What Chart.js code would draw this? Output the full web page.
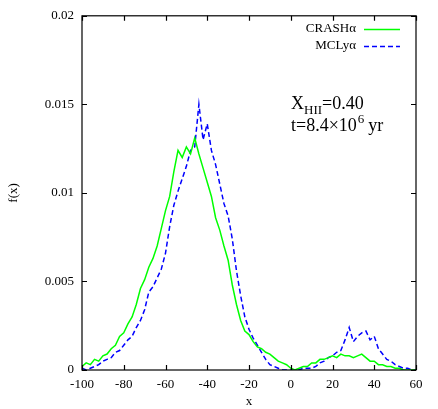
<!DOCTYPE html>
<html>
<head>
<meta charset="utf-8">
<script src="https://cdn.jsdelivr.net/npm/chart.js@4/dist/chart.umd.min.js"></script>
<style>
html,body{margin:0;padding:0;background:#fff;}
#wrap{width:438px;height:409px;position:relative;}
</style>
</head>
<body>
<div id="wrap"><canvas id="c" width="438" height="409"></canvas></div>
<script>
const xValues = [-100,-98,-96,-94,-92,-90,-88,-86,-84,-82,-80,-78,-76,-74,-72,-70,-68,-66,-64,-62,-60,-58,-56,-54,-52,-50,-48,-46,-44,-42,-40,-38,-36,-34,-32,-30,-28,-26,-24,-22,-20,-18,-16,-14,-12,-10,-8,-6,-4,-2,0,2,4,6,8,10,12,14,16,18,20,22,24,26,28,30,32,34,36,38,40,42,44,46,48,50,52,54,56,58,60];
const crash = [0.0002,0.0004,0.0003,0.0006,0.0005,0.0008,0.0009,0.0012,0.0014,0.0019,0.0021,0.0026,0.0030,0.0037,0.0046,0.0051,0.0058,0.0063,0.0070,0.0080,0.0090,0.0098,0.0112,0.0124,0.0120,0.0126,0.0122,0.0131,0.0122,0.0114,0.0106,0.0098,0.0086,0.0079,0.0070,0.0062,0.0048,0.0037,0.0028,0.0022,0.0020,0.0016,0.0013,0.0012,0.0010,0.0009,0.0007,0.0005,0.0004,0.0003,0.0001,0.0000,0.0001,0.0002,0.0002,0.0004,0.0004,0.0006,0.0006,0.0007,0.0008,0.0007,0.0009,0.0008,0.0008,0.0007,0.0008,0.0009,0.0007,0.0005,0.0005,0.0003,0.0003,0.0002,0.0002,0.0001,0.0001,0.0000,0,0,0];
const mclya = [0.0001,0.0000,0.0001,0.0002,0.0003,0.0005,0.0006,0.0007,0.0010,0.0011,0.0014,0.0017,0.0019,0.0024,0.0028,0.0034,0.0044,0.0047,0.0052,0.0057,0.0066,0.0081,0.0093,0.0101,0.0108,0.0115,0.0124,0.0126,0.0150,0.0130,0.0139,0.0124,0.0116,0.0105,0.0094,0.0087,0.0074,0.0056,0.0042,0.0030,0.0023,0.0018,0.0014,0.0010,0.0006,0.0003,0.0002,0.0001,0.0000,0.0000,0.0000,0.0000,0.0000,0.0001,0.0001,0.0001,0.0002,0.0004,0.0005,0.0007,0.0008,0.0010,0.0011,0.0017,0.0024,0.0016,0.0019,0.0021,0.0022,0.0017,0.0019,0.0012,0.0009,0.0006,0.0005,0.0003,0.0002,0.0001,0.0001,0,0];
const xTicks = [-100,-80,-60,-40,-20,0,20,40,60];
const yTicks = [0,0.005,0.01,0.015,0.02];
const yTickLabels = ["0","0.005","0.01","0.015","0.02"];
const seriesNames = ["CRASH\u03b1","MCLy\u03b1"];

const SERIF = '"Liberation Serif","DejaVu Serif",serif';

const overlay = {
  id:'overlay',
  afterDatasetsDraw(chart){
    const ctx = chart.ctx, a = chart.chartArea;
    const xs = chart.scales.x, ys = chart.scales.y;
    ctx.save();
    ctx.strokeStyle = '#000'; ctx.lineWidth = 1.2;
    ctx.strokeRect(a.left, a.top, a.right-a.left, a.bottom-a.top);
    const tl = 5;
    ctx.beginPath();
    xTicks.forEach(v=>{
      const p = Math.round(xs.getPixelForValue(v))+0.5;
      ctx.moveTo(p,a.bottom); ctx.lineTo(p,a.bottom-tl);
      ctx.moveTo(p,a.top); ctx.lineTo(p,a.top+tl);
    });
    yTicks.forEach(v=>{
      const p = Math.round(ys.getPixelForValue(v))+0.5;
      ctx.moveTo(a.left,p); ctx.lineTo(a.left+tl,p);
      ctx.moveTo(a.right,p); ctx.lineTo(a.right-tl,p);
    });
    ctx.stroke();
    // legend
    ctx.font = '13px '+SERIF;
    ctx.fillStyle = '#000';
    ctx.textAlign = 'right'; ctx.textBaseline = 'middle';
    ctx.fillText(seriesNames[0], 356, 29);
    ctx.fillText(seriesNames[1], 356, 46);
    ctx.lineWidth = 1.5;
    ctx.strokeStyle = '#00ff00';
    ctx.beginPath(); ctx.moveTo(364,29.5); ctx.lineTo(400,29.5); ctx.stroke();
    ctx.strokeStyle = '#0000ff'; ctx.setLineDash([5,3]);
    ctx.beginPath(); ctx.moveTo(364,46.5); ctx.lineTo(400,46.5); ctx.stroke();
    ctx.setLineDash([]);
    // annotation
    ctx.textAlign = 'left'; ctx.textBaseline = 'alphabetic';
    let x = 291;
    ctx.font = '18px '+SERIF;
    ctx.fillText('X', x, 109); x += ctx.measureText('X').width;
    ctx.font = '13px '+SERIF;
    ctx.fillText('HII', x, 114); x += ctx.measureText('HII').width;
    ctx.font = '18px '+SERIF;
    ctx.fillText('=0.40', x, 109);
    x = 291;
    ctx.fillText('t=8.4\u00d710', x, 131); x += ctx.measureText('t=8.4\u00d710').width + 1;
    ctx.font = '13px '+SERIF;
    ctx.fillText('6', x, 123); x += ctx.measureText('6').width + 4;
    ctx.font = '18px '+SERIF;
    ctx.fillText('yr', x, 131);
    ctx.restore();
  }
};

new Chart(document.getElementById('c'), {
  type:'line',
  data:{
    datasets:[
      {label:seriesNames[0], data:xValues.map((x,i)=>({x:x,y:crash[i]})), borderColor:'#00ff00', borderWidth:1.5, pointRadius:0, tension:0, fill:false},
      {label:seriesNames[1], data:xValues.map((x,i)=>({x:x,y:mclya[i]})), borderColor:'#0000ff', borderWidth:1.5, borderDash:[5,3], pointRadius:0, tension:0, fill:false}
    ]
  },
  options:{
    responsive:false, animation:false, devicePixelRatio:1,
    layout:{padding:{top:15,right:22,left:0,bottom:0}},
    plugins:{legend:{display:false}, tooltip:{enabled:false}},
    scales:{
      x:{type:'linear', min:-100, max:60,
        grid:{display:false, drawTicks:false}, border:{display:false},
        afterBuildTicks(s){ s.ticks = xTicks.map(v=>({value:v})); },
        afterFit(s){ s.height = 39; },
        ticks:{color:'#000', font:{family:SERIF,size:13}, padding:7, maxRotation:0, autoSkip:false, callback:v=>String(v)},
        title:{display:true, text:'x', color:'#000', font:{family:SERIF,size:13}, padding:{top:1,bottom:0}}
      },
      y:{type:'linear', min:0, max:0.02,
        grid:{display:false, drawTicks:false}, border:{display:false},
        afterBuildTicks(s){ s.ticks = yTicks.map(v=>({value:v})); },
        afterFit(s){ s.width = 82; },
        ticks:{color:'#000', font:{family:SERIF,size:13}, padding:8, autoSkip:false, callback:(v)=>{const i=yTicks.indexOf(v); return i>=0?yTickLabels[i]:'';}},
        title:{display:true, text:'f(x)', color:'#000', font:{family:SERIF,size:13}, padding:{top:6,bottom:0}}
      }
    }
  },
  plugins:[overlay]
});
</script>
</body>
</html>
